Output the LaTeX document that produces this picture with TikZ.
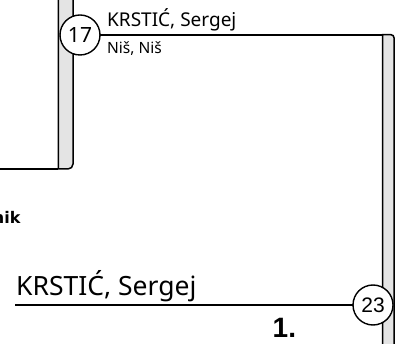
\documentclass[tikz,border=0pt]{standalone}
\usepackage{fontspec}
\setmainfont{Noto Sans}
\newfontfamily\arialfont{Liberation Sans}
\newfontfamily\arialbold{Liberation Sans Bold}
\newfontfamily\sansbold{DejaVu Sans Bold}
\begin{document}
\begin{tikzpicture}[x=1pt,y=-1pt,
  barbox/.style={draw=black,line width=1.5pt,fill=barfill},
  conn/.style={draw=black,line width=1.7pt},
  seedcirc/.style={circle,draw=black,line width=1.4pt,fill=white,minimum size=40pt,inner sep=0pt},
  txt/.style={inner sep=0pt,anchor=base west}]
\definecolor{barfill}{HTML}{E4E4E4}
\useasboundingbox (0,0) rectangle (399,344);
% left bar
\draw[barbox] (58.3,-5) -- (58.3,169) [rounded corners=5pt] -- (73,169) -- (73,-5);
% right bar
\draw[barbox] (382.7,350) -- (382.7,34.7) [rounded corners=3pt] -- (394,34.7) -- (394,350);
% nodes
\coordinate (lend) at (0,169);
\coordinate (lbar) at (58.3,169);
\coordinate (rbar) at (382.7,34.7);
\coordinate (bstart) at (15,304.7);
\draw[conn] (lend) -- (lbar);
\draw[conn] (80,34.7) -- (rbar);
\draw[conn] (bstart) -- (373,304.7);
\node[seedcirc,font=\fontsize{21}{21}\selectfont] (c17) at (80,35) {17};
\node[seedcirc,font=\arialfont\fontsize{21}{21}\selectfont] (c23) at (373,305) {23};
% texts
\node[txt,font=\fontsize{19}{19}\selectfont] (n1) at (107,26.7) {KRSTIĆ, Sergej};
\node[txt,font=\fontsize{15.5}{15.5}\selectfont] (n2) at (107,53.3) {Niš, Niš};
\node[txt,font=\fontsize{26.5}{26.5}\selectfont] (n3) at (16,296) {KRSTIĆ, Sergej};
\node[inner sep=0pt,anchor=base east,font=\sansbold\fontsize{16}{16}\selectfont] (n4) at (20.7,224) {nik};
\node[txt,font=\arialbold\fontsize{28}{28}\selectfont] (n5) at (272.5,338) {1.};
\end{tikzpicture}
\end{document}
